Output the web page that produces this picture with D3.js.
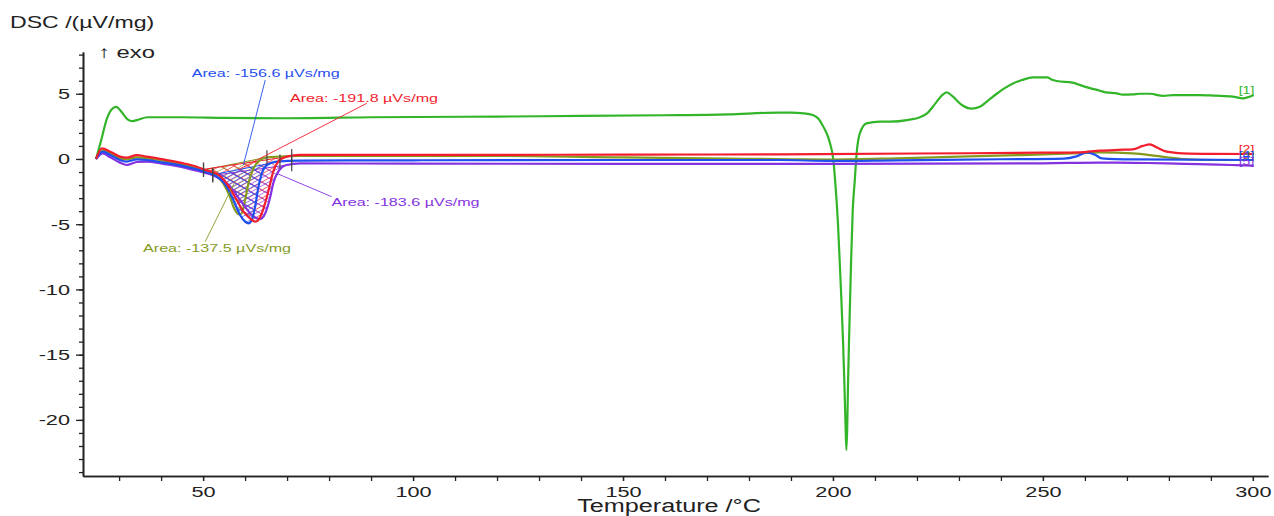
<!DOCTYPE html>
<html>
<head>
<meta charset="utf-8">
<script src="https://cdn.jsdelivr.net/npm/d3@7"></script>
<style>
  html, body { margin: 0; padding: 0; background: #fff; }
  svg { display: block; font-family: "Liberation Sans", Arial, sans-serif; }
</style>
</head>
<body>
<div id="chart"></div>
<script>
// DSC curves, [temperature °C, DSC µV/mg]
const curve1 = [[24.5,0],[25.7,1.4],[27.0,3.0],[28.2,3.8],[29.3,4.0],[30.6,3.6],[32.0,3.04],[33.2,2.9],[34.4,3.0],[36.8,3.2],
  [45,3.2],[55,3.15],[70,3.12],[90,3.2],[120,3.25],[140,3.3],[160,3.35],[175,3.42],[187,3.55],[190,3.55],[193,3.5],[195.2,3.37],
  [196.5,3.1],[197.7,2.48],[199.3,1.2],[200.1,-0.1],[200.5,-1.6],[201.2,-5],[201.9,-10],[202.4,-14],[202.7,-17],[203.0,-20.5],
  [203.2,-22.3],[203.4,-20.5],[203.6,-17],[203.9,-13],[204.3,-8],[204.7,-4],[205.2,-1.6],[205.6,0.3],[206.4,1.97],[208,2.73],
  [211.2,2.86],[213.6,2.86],[218,3.0],[220.7,3.2],[222.4,3.5],[224.5,4.3],[226,4.9],[227.1,5.1],[228.5,4.8],[230.7,4.14],
  [233,3.86],[235,4.0],[237,4.5],[239,5.0],[241,5.45],[243,5.8],[245,6.05],[247.6,6.26],[251,6.26],[252,6.1],[253.3,5.98],
  [257.1,5.85],[258.8,5.67],[261,5.45],[263.6,5.23],[265,5.1],[267.6,5.03],[269,4.93],[271.4,4.95],[273,5.0],[275.5,5.0],
  [278.6,4.83],[281,4.9],[287.4,4.9],[291,4.85],[295.2,4.78],[297.6,4.65],[300.2,4.9]];

const curve2 = [[24.5,0],[25.9,0.82],[27.9,0.56],[30.2,0.18],[31.8,0.1],[34.2,0.3],[36.6,0.18],[40.5,-0.03],[44.5,-0.28],
  [48.5,-0.59],[50.5,-0.85],[52.3,-1.0],[54,-1.3],[55.6,-1.87],[58.0,-3.14],[59.6,-4.04],[61.2,-4.55],[62.4,-4.8],[63.2,-4.67],
  [64.0,-4.16],[65.2,-2.9],[66.0,-1.87],[66.7,-0.97],[67.9,-0.2],[69.9,0.18],[73.1,0.31],[90,0.31],[120,0.32],[150,0.33],
  [187,0.36],[220,0.42],[250,0.48],[258.8,0.51],[263.6,0.64],[268,0.7],[271.4,0.74],[273.8,1.0],[275.5,1.12],[277,0.9],
  [279.5,0.56],[283.3,0.43],[290,0.39],[300.2,0.38]];

const curve3 = [[24.5,0],[26.3,0.69],[27.9,0.43],[30.2,0.05],[31.8,-0.03],[34.2,0.13],[36.6,0.05],[40.5,-0.13],[44.5,-0.38],
  [48.5,-0.72],[50.5,-0.88],[52.3,-1.1],[54.8,-1.87],[56.4,-2.9],[57.2,-3.65],[58.6,-4.25],[59.2,-4.16],[60.0,-3.14],
  [60.8,-1.87],[62.0,-0.72],[63.6,-0.08],[65.2,0.13],[73.1,0.23],[100,0.23],[120,0.23],[150,0.12],[175,0.03],[190,-0.02],
  [200,-0.04],[215,0.05],[230,0.18],[245,0.3],[258.8,0.45],[263.6,0.51],[271.4,0.43],[275.5,0.3],[279.5,0.13],[283.3,0.0],
  [291,-0.08],[300.2,-0.08]];

const curve4 = [[24.5,0],[26.1,0.56],[27.9,0.31],[30.2,-0.08],[31.8,-0.2],[34.2,-0.03],[36.6,-0.08],[40.5,-0.28],[44.5,-0.49],
  [48.5,-0.79],[50.9,-1.02],[53,-1.3],[55.6,-2.1],[57.2,-3.14],[58.8,-4.29],[60.0,-4.8],[60.8,-4.93],[61.6,-4.67],[62.4,-3.65],
  [63.2,-2.1],[64.0,-1.1],[65.2,-0.46],[67.5,-0.2],[73,-0.12],[100,-0.1],[150,-0.08],[187,-0.08],[200,-0.15],[215,-0.1],
  [240,-0.02],[255,0.03],[258,0.2],[260.5,0.5],[262.5,0.3],[264,0.05],[271.4,-0.03],[300.2,-0.08]];

const curve5 = [[24.5,0],[26.1,0.43],[27.9,0.13],[30.2,-0.28],[31.8,-0.46],[34.2,-0.23],[36.6,-0.2],[40.5,-0.38],[44.5,-0.59],
  [48.5,-0.9],[50.9,-1.1],[53,-1.35],[56.4,-2.1],[58.8,-3.14],[61.2,-4.16],[62.8,-4.55],[63.6,-4.6],[64.8,-4.16],[66.0,-2.9],
  [66.7,-1.87],[67.9,-0.97],[69.9,-0.46],[73.1,-0.33],[100,-0.36],[150,-0.37],[200,-0.38],[250,-0.33],[263.6,-0.28],
  [271.4,-0.3],[279.5,-0.33],[287,-0.4],[295,-0.46],[300.2,-0.51]];

const curveNames = ["[1]", "[2]", "[3]", "[4]", "[5]"];
const curveColors = ["#33b52a", "#f21d2d", "#859b1f", "#1f4ff0", "#8432e0"];

// peak integrations: curve index, start/end temperature, area label
const peakCurve = [2, 1, 4, 3];
const peakStart = [50.1, 50.1, 52.3, 52.3];
const peakEnd = [65.2, 71.1, 71.1, 68.3];
const peakLabels = ["Area: -137.5 µVs/mg", "Area: -191.8 µVs/mg", "Area: -183.6 µVs/mg", "Area: -156.6 µVs/mg"];
// label anchor [T, v] and leader line [from T, v, to T, v]
const labelAt = [[35.7, -7.13], [70.7, 4.37], [80.6, -3.58], [47.3, 6.25]];
const leaders = [[50.5, -6.34, 57.5, -1.8], [89.0, 4.27, 58.5, -0.8], [80.6, -2.89, 67.5, -1.1], [64.8, 6.05, 59.6, -0.46]];

const xMajor = [50, 100, 150, 200, 250, 300];
const xMinor = d3.range(30, 301, 10);
const yMajor = [-20, -15, -10, -5, 0, 5];
const yMinor = d3.range(-24, 9, 1);

const width = 1274, height = 516;
const SX = 1.4; // text in the reference is widened horizontally
const series = [curve1, curve2, curve3, curve4, curve5];

const x = d3.scaleLinear().domain([21.4, 303.6]).range([83, 1268]);
const y = d3.scaleLinear().domain([-24.3, 8.2]).range([476, 52]);

const svg = d3.select("#chart").append("svg")
  .attr("width", width)
  .attr("height", height);

function widen(sel) {
  sel.each(function () {
    const w = this.getComputedTextLength();
    if (w > 0) d3.select(this).attr("textLength", w * SX).attr("lengthAdjust", "spacingAndGlyphs");
  });
}

function valueAt(data, t) {
  for (let i = 1; i < data.length; i++) {
    if (data[i][0] >= t) {
      const a = data[i - 1], b = data[i];
      return a[1] + (b[1] - a[1]) * (t - a[0]) / (b[0] - a[0]);
    }
  }
  return data[data.length - 1][1];
}

// axes
const axisColor = "#222";
const plain = d => String(d);
const yAxisMinor = svg.append("g")
  .attr("transform", `translate(${x.range()[0]},0)`)
  .call(d3.axisLeft(y).tickValues(yMinor).tickSize(4).tickFormat("").tickSizeOuter(0));
const yAxis = svg.append("g")
  .attr("transform", `translate(${x.range()[0]},0)`)
  .call(d3.axisLeft(y).tickValues(yMajor).tickSize(7).tickPadding(6).tickSizeOuter(0).tickFormat(plain));
const xAxisMinor = svg.append("g")
  .attr("transform", `translate(0,${y.range()[0]})`)
  .call(d3.axisBottom(x).tickValues(xMinor).tickSize(5).tickFormat("").tickSizeOuter(0));
const xAxis = svg.append("g")
  .attr("transform", `translate(0,${y.range()[0]})`)
  .call(d3.axisBottom(x).tickValues(xMajor).tickSize(5).tickPadding(5).tickSizeOuter(0).tickFormat(plain));

[yAxisMinor, yAxis, xAxisMinor, xAxis].forEach(g => {
  g.select(".domain").attr("stroke", axisColor).attr("stroke-width", 1.6);
  g.selectAll(".tick line").attr("stroke", axisColor).attr("stroke-width", 1.3);
  g.selectAll(".tick text").attr("fill", "#222").attr("font-size", 15.5)
    .attr("font-family", "'Liberation Sans', Arial, sans-serif");
});
widen(yAxis.selectAll(".tick text"));
widen(xAxis.selectAll(".tick text"));

svg.append("text")
  .attr("x", 10).attr("y", 28)
  .attr("font-size", 16.5).attr("fill", "#222")
  .text("DSC /(µV/mg)").call(widen);

svg.append("text")
  .attr("x", 98).attr("y", 58)
  .attr("font-size", 17).attr("fill", "#222")
  .text("↑ exo").call(widen);

svg.append("text")
  .attr("x", 669).attr("y", 512)
  .attr("text-anchor", "middle")
  .attr("font-size", 18).attr("fill", "#222")
  .text("Temperature /°C").call(widen);

// hatch patterns
const defs = svg.append("defs");
peakCurve.forEach((ci, i) => {
  const p = defs.append("pattern")
    .attr("id", `hatch-${i}`)
    .attr("patternUnits", "userSpaceOnUse")
    .attr("width", 14).attr("height", 8)
    .attr("patternTransform", `translate(${i * 3},${i * 2})`);
  p.append("path")
    .attr("d", "M0,0L14,8M0,8L14,0")
    .attr("stroke", curveColors[ci])
    .attr("stroke-width", 0.7)
    .attr("fill", "none");
});

const line = d3.line()
  .x(d => x(d[0]))
  .y(d => y(d[1]))
  .curve(d3.curveMonotoneX);

// hatched areas between baseline and curve
peakCurve.forEach((ci, i) => {
  const data = series[ci];
  const t0 = peakStart[i], t1 = peakEnd[i];
  const v0 = valueAt(data, t0), v1 = valueAt(data, t1);
  const inside = [[t0, v0]].concat(data.filter(d => d[0] > t0 && d[0] < t1), [[t1, v1]]);
  const base = t => v0 + (v1 - v0) * (t - t0) / (t1 - t0);
  svg.append("path")
    .datum(inside)
    .attr("fill", `url(#hatch-${i})`)
    .attr("stroke", "none")
    .attr("d", d3.area()
      .x(d => x(d[0]))
      .y0(d => y(base(d[0])))
      .y1(d => y(d[1]))
      .curve(d3.curveMonotoneX));
  svg.append("line")
    .attr("x1", x(t0)).attr("y1", y(v0))
    .attr("x2", x(t1)).attr("y2", y(v1))
    .attr("stroke", curveColors[ci])
    .attr("stroke-width", 1);
});

// curves
const drawOrder = [0, 2, 4, 3, 1];
drawOrder.forEach(ci => {
  svg.append("path")
    .datum(series[ci])
    .attr("fill", "none")
    .attr("stroke", curveColors[ci])
    .attr("stroke-width", 2.2)
    .attr("stroke-linejoin", "round")
    .attr("d", line);
});

// integration limit markers
peakCurve.forEach((ci, i) => {
  [peakStart[i], peakEnd[i]].forEach(t => {
    const v = valueAt(series[ci], t);
    svg.append("line")
      .attr("x1", x(t)).attr("x2", x(t))
      .attr("y1", y(v) - 7).attr("y2", y(v) + 7)
      .attr("stroke", "#444")
      .attr("stroke-width", 1.2);
  });
});

// area labels with leader lines
peakCurve.forEach((ci, i) => {
  const l = leaders[i];
  svg.append("line")
    .attr("x1", x(l[0])).attr("y1", y(l[1]))
    .attr("x2", x(l[2])).attr("y2", y(l[3]))
    .attr("stroke", curveColors[ci])
    .attr("stroke-width", 0.9);
  svg.append("text")
    .attr("x", x(labelAt[i][0])).attr("y", y(labelAt[i][1]))
    .attr("font-size", 11.5)
    .attr("fill", curveColors[ci])
    .text(peakLabels[i]).call(widen);
});

// curve numbers at right end
series.forEach((data, ci) => {
  const last = data[data.length - 1];
  svg.append("text")
    .attr("x", x(last[0]) - 15)
    .attr("y", y(last[1]) - 1)
    .attr("font-size", 10)
    .attr("fill", curveColors[ci])
    .text(curveNames[ci]).call(widen);
});
</script>
</body>
</html>
